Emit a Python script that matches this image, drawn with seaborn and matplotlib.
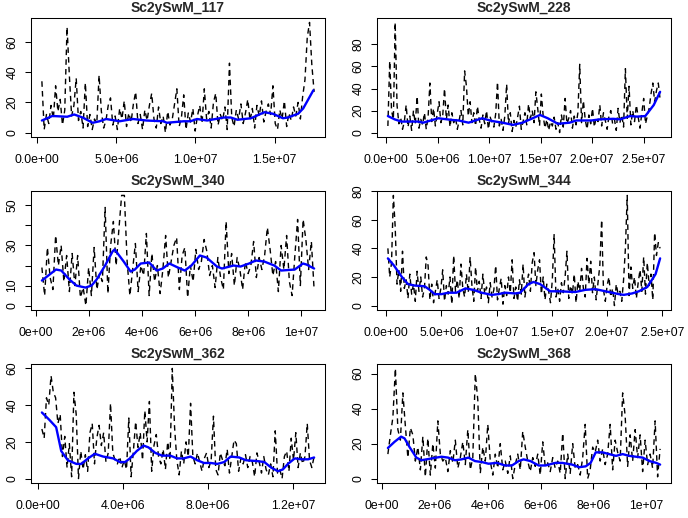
import numpy as np
import matplotlib
matplotlib.use("Agg")
import matplotlib.pyplot as plt
import seaborn as sns

sns.set_theme(style="ticks")
plt.rcParams["font.family"] = ["Liberation Sans", "DejaVu Sans"]

# ---------------- Sc2ySwM_117 ----------------
span_117 = (3.0e5, 1.75e7)
cov_117 = [34, 2, 12, 6, 18, 9, 31, 14, 22, 5,
           15, 70, 38, 11, 18, 36, 8, 14, 3, 33,
           4, 12, 2, 9, 6, 38, 14, 3, 8, 18,
           23, 5, 11, 2, 16, 9, 21, 4, 13, 7,
           19, 27, 6, 12, 2, 15, 8, 18, 26, 9,
           3, 17, 6, 11, 0, 14, 5, 9, 19, 29,
           4, 10, 25, 2, 13, 7, 16, 1, 11, 18,
           6, 29, 9, 14, 3, 20, 26, 5, 12, 8,
           17, 2, 46, 10, 4, 15, 9, 19, 6, 13,
           22, 8, 16, 3, 18, 11, 21, 7, 14, 19,
           12, 31, 6, 2, 15, 9, 21, 4, 13, 8,
           17, 11, 20, 9, 24, 35, 63, 73, 45, 27]
trend_mb_117 = [0.3, 0.96, 1.9, 2.34, 2.87, 3.51, 3.94, 4.36, 5.21, 6.06,
                6.91, 7.98, 8.19, 9.26, 9.68, 10.1, 10.74, 11.8, 12.23, 12.66,
                13.51, 14.36, 14.89, 15.53, 15.85, 16.49, 16.81, 17.13, 17.45]
trend_117 = [8, 11, 10.5, 12, 10, 6.5, 7.5, 9, 7.5, 9,
             8, 7.5, 6.5, 7.5, 7.5, 9, 8, 10, 10, 8.5,
             9.5, 13.5, 12.5, 9.5, 10, 12.5, 16, 22, 28]
xticks_117 = [0, 5e6, 1e7, 1.5e7]
xlabels_117 = ["0.0e+00", "5.0e+06", "1.0e+07", "1.5e+07"]
yticks_117 = [0, 20, 40, 60]
ylabels_117 = ["0", "20", "40", "60"]

# ---------------- Sc2ySwM_228 ----------------
span_228 = (1.6e5, 2.66e7)
cov_228 = [6, 65, 20, 12, 100, 25, 8, 14, 3, 10,
           25, 5, 15, 2, 20, 8, 33, 4, 12, 7,
           18, 3, 14, 45, 10, 22, 6, 17, 28, 9,
           15, 40, 12, 25, 5, 18, 9, 14, 3, 11,
           20, 7, 56, 42, 15, 28, 9, 18, 6, 24,
           12, 4, 16, 8, 20, 3, 14, 9, 5, 17,
           46, 6, 12, 2, 15, 44, 8, 18, 1, 11,
           5, 14, 24, 3, 10, 18, 7, 26, 13, 20,
           9, 37, 22, 6, 35, 15, 4, 12, 2, 10,
           6, 14, 3, 9, 0, 16, 5, 31, 8, 13,
           20, 4, 15, 7, 18, 62, 9, 29, 12, 3,
           16, 8, 22, 5, 14, 10, 25, 6, 18, 11,
           3, 15, 20, 8, 12, 2, 22, 9, 16, 5,
           58, 13, 42, 7, 20, 10, 25, 14, 4, 18,
           31, 8, 15, 22, 35, 45, 28, 38, 45, 30]
trend_mb_228 = [0.16, 0.82, 1.47, 3.1, 3.59, 5.07, 6.37, 7.03, 8.0, 9.31,
                10.29, 11.27, 12.32, 13.24, 14.22, 14.93, 15.69, 16.67, 17.81, 18.46,
                19.93, 20.75, 22.06, 22.71, 23.69, 24.35, 25.16, 25.98, 26.6]
trend_228 = [15, 12, 10, 10, 9, 13, 11.5, 11, 9, 13,
             10.5, 9, 7, 9, 13, 16, 13, 8, 9, 11,
             11, 12, 12.5, 12, 15, 14.5, 15, 25, 37]
xticks_228 = [0, 5e6, 1e7, 1.5e7, 2e7, 2.5e7]
xlabels_228 = ["0.0e+00", "5.0e+06", "1.0e+07", "1.5e+07", "2.0e+07", "2.5e+07"]
yticks_228 = [0, 20, 40, 60, 80]
ylabels_228 = ["0", "20", "40", "60", "80"]

# ---------------- Sc2ySwM_340 ----------------
span_340 = (2.3e5, 1.048e7)
cov_340 = [19, 5, 29, 14, 8, 35, 20, 30, 12, 25,
           7, 26, 10, 25, 4, 9, 0, 19, 5, 29,
           8, 16, 12, 49, 6, 30, 42, 20, 38, 55,
           55, 22, 5, 18, 31, 7, 20, 15, 36, 5,
           26, 12, 20, 6, 18, 35, 14, 22, 30, 34,
           8, 25, 29, 4, 20, 12, 28, 18, 22, 33,
           27, 15, 20, 9, 24, 14, 8, 42, 16, 26,
           10, 24, 18, 8, 22, 16, 20, 32, 14, 24,
           18, 25, 39, 28, 15, 22, 7, 30, 18, 35,
           12, 5, 25, 43, 10, 43, 33, 18, 32, 8]
trend_mb_340 = [0.23, 0.76, 0.96, 1.27, 1.53, 1.87, 2.1, 2.29, 2.61, 2.89,
                2.97, 3.31, 3.57, 3.73, 3.95, 4.27, 4.55, 4.78, 5.03, 5.35,
                5.61, 5.86, 6.18, 6.43, 6.82, 7.01, 7.45, 7.71, 8.03, 8.28,
                8.6, 8.98, 9.24, 9.75, 10.06, 10.19, 10.48]
trend_340 = [12.5, 18, 17.5, 13, 10, 9, 10, 13, 20, 27,
             28, 22, 17, 18, 21, 21.5, 17.5, 18.5, 21, 19,
             17.5, 20, 25, 24, 19.5, 18.5, 20, 19.5, 21, 22.5,
             22, 20, 17.5, 18, 21, 20.5, 18.5]
xticks_340 = [0, 2e6, 4e6, 6e6, 8e6, 1e7]
xlabels_340 = ["0e+00", "2e+06", "4e+06", "6e+06", "8e+06", "1e+07"]
yticks_340 = [0, 10, 20, 30, 40, 50]
ylabels_340 = ["0", "10", "", "30", "", "50"]

# ---------------- Sc2ySwM_344 ----------------
span_344 = (1.5e5, 2.48e7)
cov_344 = [40, 20, 30, 77, 55, 15, 25, 10, 38, 12,
           18, 5, 22, 8, 15, 3, 24, 10, 20, 6,
           12, 34, 28, 4, 15, 2, 10, 18, 5, 12,
           25, 3, 14, 8, 20, 1, 35, 10, 18, 5,
           29, 12, 6, 22, 9, 34, 14, 3, 27, 10,
           17, 5, 22, 8, 13, 2, 16, 6, 11, 28,
           4, 12, 19, 1, 14, 7, 20, 9, 32, 5,
           13, 3, 18, 8, 29, 6, 15, 22, 10, 30,
           37, 14, 25, 32, 8, 20, 4, 15, 10, 2,
           18, 50, 6, 12, 3, 16, 9, 20, 38, 5,
           14, 8, 22, 2, 17, 10, 26, 12, 6, 33,
           15, 31, 9, 20, 4, 16, 28, 60, 11, 3,
           14, 20, 6, 12, 0, 15, 8, 10, 3, 18,
           40, 77, 7, 27, 12, 20, 5, 16, 25, 10,
           34, 8, 30, 14, 22, 4, 51, 35, 44, 40]
trend_mb_344 = [0.15, 0.7, 1.42, 1.97, 2.58, 3.48, 3.94, 4.39, 5.0, 5.61,
                6.36, 7.18, 7.88, 8.64, 9.55, 10.15, 10.76, 11.67, 12.12, 12.88,
                13.33, 13.94, 14.85, 15.61, 17.12, 18.03, 18.94, 20.15, 21.06, 21.52,
                22.27, 22.88, 23.64, 24.39, 24.8]
trend_344 = [33, 28, 20, 15, 14, 13.5, 11, 8, 8, 9,
             9, 12, 11, 9, 7.5, 8, 9, 8.5, 9, 15,
             16.5, 15, 10, 10, 9.5, 11, 11.5, 9.5, 8, 7.5,
             8.5, 10, 13, 22, 33]
xticks_344 = [0, 5e6, 1e7, 1.5e7, 2e7, 2.5e7]
xlabels_344 = ["0.0e+00", "5.0e+06", "1.0e+07", "1.5e+07", "2.0e+07", "2.5e+07"]
yticks_344 = [0, 20, 40, 60, 80]
ylabels_344 = ["0", "20", "40", "60", "80"]

# ---------------- Sc2ySwM_362 ----------------
span_362 = (2.0e5, 1.30e7)
cov_362 = [27, 22, 44, 40, 56, 47, 44, 30, 35, 12,
           23, 6, 19, 1, 47, 35, 0, 15, 5, 13,
           4, 25, 30, 8, 22, 29, 18, 25, 9, 14,
           41, 14, 10, 8, 12, 6, 10, 5, 33, 1,
           15, 31, 17, 25, 10, 37, 20, 42, 4, 18,
           24, 12, 8, 16, 5, 20, 10, 60, 28, 10,
           2, 15, 8, 20, 12, 41, 12, 8, 14, 9,
           4, 11, 14, 6, 10, 34, 5, 2, 14, 10,
           7, 16, 3, 12, 21, 19, 4, 11, 8, 13,
           6, 12, 9, 1, 14, 9, 3, 12, 5, 2,
           8, 1, 26, 3, 5, 0, 12, 15, 4, 22,
           10, 25, 6, 14, 8, 12, 30, 10, 6, 12]
trend_mb_362 = [0.2, 0.55, 0.87, 1.11, 1.42, 1.82, 2.05, 2.37, 2.69, 3.08,
                3.55, 3.87, 4.11, 4.34, 4.66, 4.98, 5.21, 5.53, 5.85, 6.24,
                6.56, 6.87, 7.19, 7.5, 7.82, 8.14, 8.45, 8.77, 9.08, 9.48,
                9.79, 10.35, 10.66, 10.98, 11.3, 11.53, 11.77, 12.09, 12.4, 12.72,
                13.0]
trend_362 = [36, 32, 28, 15, 10, 8, 8, 11, 13.5, 12,
             11, 9, 9, 11, 15, 18, 17, 14, 12.5, 12.5,
             11, 11, 12, 10, 8.5, 8.5, 8, 9, 12, 11.5,
             10, 9.5, 9, 6, 4, 5, 8, 11, 10.5, 10.5,
             11.5]
xticks_362 = [0, 4e6, 8e6, 1.2e7]
xlabels_362 = ["0.0e+00", "4.0e+06", "8.0e+06", "1.2e+07"]
yticks_362 = [0, 20, 40, 60]
ylabels_362 = ["0", "20", "40", "60"]

# ---------------- Sc2ySwM_368 ----------------
span_368 = (2.2e5, 1.053e7)
cov_368 = [14, 25, 35, 63, 28, 22, 49, 30, 12, 29,
           25, 10, 18, 5, 24, 1, 23, 2, 20, 6,
           33, 14, 10, 12, 4, 16, 9, 22, 6, 12,
           21, 8, 28, 5, 12, 60, 45, 3, 18, 10,
           31, 10, 2, 14, 6, 20, 5, 10, 3, 13,
           0, 8, 14, 5, 27, 18, 10, 4, 12, 7,
           14, 2, 21, 7, 9, 4, 12, 6, 10, 3,
           26, 0, 14, 3, 20, 6, 8, 2, 12, 31,
           0, 5, 18, 15, 22, 10, 17, 8, 14, 31,
           5, 22, 15, 10, 49, 36, 7, 25, 10, 28,
           12, 25, 4, 22, 8, 14, 6, 33, 1, 17]
trend_mb_368 = [0.22, 0.47, 0.72, 0.85, 1.04, 1.3, 1.49, 1.87, 2.25, 2.5,
                2.76, 3.01, 3.27, 3.52, 3.77, 4.03, 4.35, 4.66, 4.92, 5.17,
                5.36, 5.62, 5.93, 6.19, 6.57, 6.82, 7.2, 7.46, 7.71, 7.9,
                8.09, 8.35, 8.6, 8.86, 9.11, 9.36, 9.62, 9.87, 10.13, 10.38,
                10.53]
trend_368 = [17.5, 21, 24, 23, 18, 12, 10.5, 11.5, 12.5, 12,
             10.5, 11, 12, 10, 9.5, 8.5, 9, 7.5, 7.5, 10,
             11, 10, 7.5, 7.5, 9, 9, 8, 6.5, 7, 9,
             15, 15, 14, 13, 14, 13, 12.5, 12, 10, 9,
             8]
xticks_368 = [0, 2e6, 4e6, 6e6, 8e6, 1e7]
xlabels_368 = ["0e+00", "2e+06", "4e+06", "6e+06", "8e+06", "1e+07"]
yticks_368 = [0, 20, 40, 60]
ylabels_368 = ["0", "20", "40", "60"]

panels = [
    ("Sc2ySwM_117", span_117, cov_117, trend_mb_117, trend_117,
     xticks_117, xlabels_117, yticks_117, ylabels_117),
    ("Sc2ySwM_228", span_228, cov_228, trend_mb_228, trend_228,
     xticks_228, xlabels_228, yticks_228, ylabels_228),
    ("Sc2ySwM_340", span_340, cov_340, trend_mb_340, trend_340,
     xticks_340, xlabels_340, yticks_340, ylabels_340),
    ("Sc2ySwM_344", span_344, cov_344, trend_mb_344, trend_344,
     xticks_344, xlabels_344, yticks_344, ylabels_344),
    ("Sc2ySwM_362", span_362, cov_362, trend_mb_362, trend_362,
     xticks_362, xlabels_362, yticks_362, ylabels_362),
    ("Sc2ySwM_368", span_368, cov_368, trend_mb_368, trend_368,
     xticks_368, xlabels_368, yticks_368, ylabels_368),
]

W, H = 688, 518
fig = plt.figure(figsize=(W / 100, H / 100), dpi=100)
fig.patch.set_facecolor("white")

col_left = [31, 377]
row_top = [18, 191, 364]
pw, ph = 294, 119

for k, (title, span, cov, tmb, tval, xt, xl, yt, yl) in enumerate(panels):
    r, c = divmod(k, 2)
    rect = [col_left[c] / W, (H - row_top[r] - ph) / H, pw / W, ph / H]
    ax = fig.add_axes(rect)
    ax.set_facecolor("white")

    pos = np.linspace(span[0], span[1], len(cov))
    sns.lineplot(x=pos, y=cov, ax=ax, color="black", linewidth=1.0,
                 linestyle=(0, (4, 3)), estimator=None, sort=False)
    sns.lineplot(x=np.asarray(tmb) * 1e6, y=tval, ax=ax, color="#0000FF",
                 linewidth=1.7, estimator=None, sort=False)

    ax.margins(x=0.04, y=0.04)
    ax.set_xticks(xt)
    ax.set_xticklabels(xl)
    ax.set_yticks(yt)
    ax.set_yticklabels(yl, rotation=90, va="center")
    ax.tick_params(axis="both", direction="out", length=4, width=0.75,
                   colors="black", labelsize=8.8)
    ax.tick_params(axis="x", pad=8)
    ax.tick_params(axis="y", pad=5)
    for s in ax.spines.values():
        s.set_visible(True)
        s.set_color("black")
        s.set_linewidth(0.75)
    ax.set_xlabel("")
    ax.set_ylabel("")
    ax.set_title(title, fontsize=10, fontweight="bold", pad=4)

fig.savefig("out.png", dpi=100, facecolor="white")
